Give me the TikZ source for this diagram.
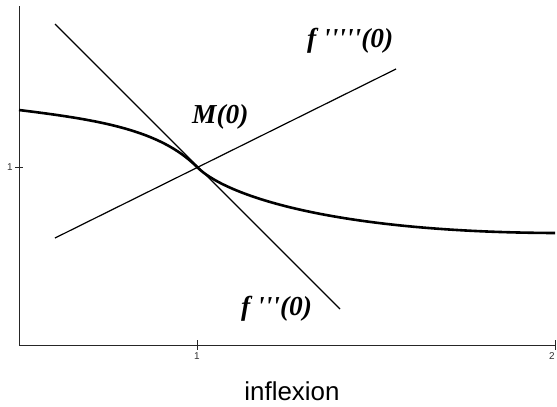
\documentclass[tikz,border=0pt]{standalone}
\usepackage{fontspec}
\newfontfamily\lblfont{Liberation Serif}
\newfontfamily\capfont{Liberation Sans}
\begin{document}
\begin{tikzpicture}[x=1bp,y=-1bp,
  axis/.style={line width=0.9bp,black!85},
  tangent/.style={line width=1.2bp},
  curve/.style={line width=2.6bp,line join=round},
  lbl/.style={inner sep=0pt,anchor=base west,font=\lblfont\bfseries\itshape\fontsize{27.5}{30}\selectfont},
  ticklbl/.style={inner sep=0pt,font=\capfont\fontsize{10}{11}\selectfont,text=black!80}]
\useasboundingbox (0,0) rectangle (557,406);
% axes
\coordinate (top) at (19,6);
\coordinate (O) at (19,345);
\coordinate (xend) at (555,345);
\draw[axis] (top) -- (O) -- (xend);
\coordinate (t1a) at (197,340); \coordinate (t1b) at (197,350);
\coordinate (t2a) at (555,340); \coordinate (t2b) at (555,350);
\coordinate (t3a) at (15,167); \coordinate (t3b) at (23,167);
\draw[axis] (t1a) -- (t1b) (t2a) -- (t2b) (t3a) -- (t3b);
\node[ticklbl] (y1) at (10,167) {1};
\node[ticklbl] (x1) at (197,356) {1};
\node[ticklbl] (x2) at (552,356) {2};
% tangent lines
\coordinate (a1) at (55,24); \coordinate (a2) at (340,309);
\coordinate (b1) at (55,238); \coordinate (b2) at (396,69);
\draw[tangent] (a1) -- (a2);
\draw[tangent] (b1) -- (b2);
% curve
\coordinate (c0) at (19,110);
\coordinate (M0) at (197,167);
\coordinate (c2) at (555,233);
\draw[curve] (c0) .. controls (100,120) and (160,130) .. (M0)
  .. controls (225,195) and (330,232) .. (c2);
% labels
\node[lbl] (M) at (192,123) {M(0)};
\node[lbl] (f3) at (241,315) {f \textquotesingle\textquotesingle\textquotesingle(0)};
\node[lbl] (f5) at (307,47) {f \textquotesingle\textquotesingle\textquotesingle\textquotesingle\textquotesingle(0)};
\node[inner sep=0pt,anchor=base,font=\capfont\fontsize{26}{28}\selectfont] (cap) at (292,400) {inflexion};
\end{tikzpicture}
\end{document}
